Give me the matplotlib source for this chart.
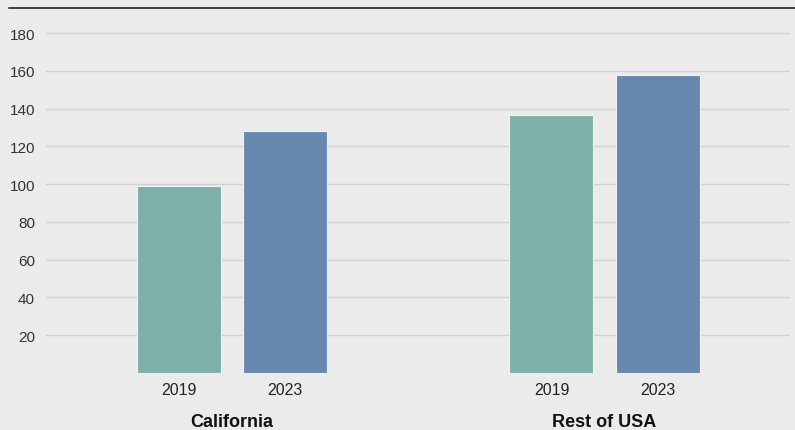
import matplotlib
matplotlib.use('agg')
import matplotlib.pyplot as plt
from matplotlib.lines import Line2D
import numpy as np

regions = ['California', 'Rest of USA']
years = ['2019', '2023']
values_2019 = [99, 136.5]
values_2023 = [128, 158]
colors = ['#7eb0a8', '#6888b0']
yticks = [20, 40, 60, 80, 100, 120, 140, 160, 180]

plt.rcParams['font.family'] = ['Liberation Sans', 'DejaVu Sans']

W, H = 795, 431
fig = plt.figure(figsize=(W / 100, H / 100), dpi=100)
fig.patch.set_facecolor('#ebebeb')

# axes placed in pixel terms: plot area from x=46..790, baseline at y=374
left, right, bottom, top = 46, 790, 374, 10
ax = fig.add_axes([left / W, (H - bottom) / H, (right - left) / W, (bottom - top) / H])
ax.set_facecolor('#ebebeb')

px_per_unit = (374 - 34) / 180
ax.set_ylim(0, (bottom - top) / px_per_unit)

group_px = 372.5
ax.set_xlim((left - 232) / group_px, (right - 232) / group_px)

width = 84 / group_px
offset = 53 / group_px
x = np.arange(len(regions))

for i, vals in enumerate([values_2019, values_2023]):
    pos = x + (i * 2 - 1) * offset
    ax.bar(pos, vals, width=width, color=colors[i], edgecolor='#f2f2f2',
           linewidth=0.8, zorder=3)
    for p in pos:
        ax.text(p, -9, years[i], ha='center', va='center', fontsize=11.5,
                color='#222222')

for xi, name in zip(x, regions):
    ax.text(xi, -25.5, name, ha='center', va='center', fontsize=13,
            fontweight='bold', color='#111111')

ax.set_yticks(yticks)
ax.set_yticklabels([str(t) for t in yticks], fontsize=11, color='#333333')
ax.tick_params(axis='y', length=0, pad=8)
ax.set_xticks([])
ax.grid(axis='y', color='#d2d2d2', linewidth=1, zorder=0)
for s in ax.spines.values():
    s.set_visible(False)

# rule across the top
fig.add_artist(Line2D([9 / W, 1], [1 - 9 / H, 1 - 9 / H], color='#111111',
                      linewidth=1.1))

fig.savefig('out.png', dpi=100, facecolor=fig.get_facecolor())
